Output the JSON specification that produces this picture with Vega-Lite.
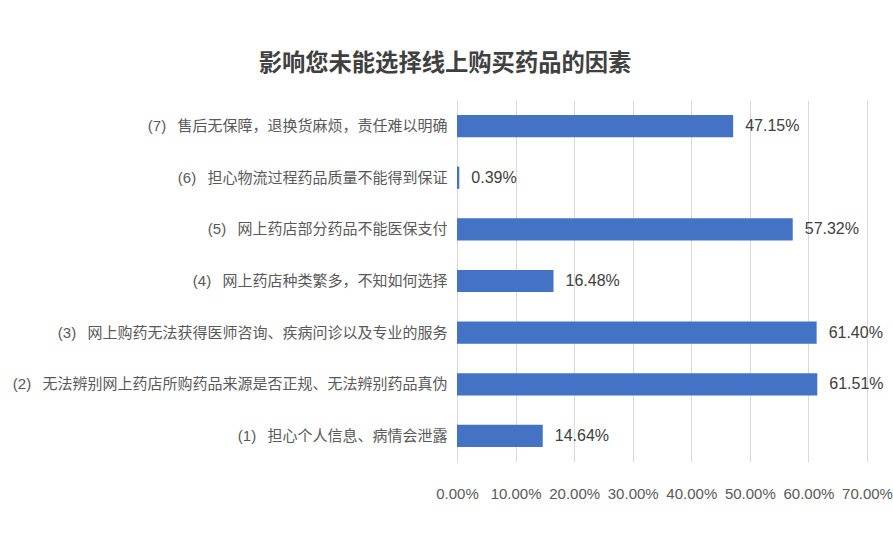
{
  "$schema": "https://vega.github.io/schema/vega-lite/v6.json",
  "width": 410,
  "height": 362,
  "autosize": {"type": "none"},
  "padding": {"left": 457, "top": 100, "right": 26, "bottom": 80},
  "background": "white",
  "config": {"view": {"stroke": null}, "font": "Liberation Sans, Noto Sans CJK SC"},
  "title": {
    "text": "影响您未能选择线上购买药品的因素",
    "font": "Noto Sans CJK SC",
    "fontSize": 23.3,
    "fontWeight": "bold",
    "color": "#404040",
    "anchor": "middle",
    "frame": "group",
    "dx": -217,
    "offset": 24
  },
  "data": {
    "values": [
      {"k": 7, "label": "(7)\u00a0\u00a0\u2009售后无保障，退换货麻烦，责任难以明确", "v": 0.4715},
      {"k": 6, "label": "(6)\u00a0\u00a0\u2009担心物流过程药品质量不能得到保证", "v": 0.0039},
      {"k": 5, "label": "(5)\u00a0\u00a0\u2009网上药店部分药品不能医保支付", "v": 0.5732},
      {"k": 4, "label": "(4)\u00a0\u00a0\u2009网上药店种类繁多，不知如何选择", "v": 0.1648},
      {"k": 3, "label": "(3)\u00a0\u00a0\u2009网上购药无法获得医师咨询、疾病问诊以及专业的服务", "v": 0.614},
      {"k": 2, "label": "(2)\u00a0\u00a0\u2009无法辨别网上药店所购药品来源是否正规、无法辨别药品真伪", "v": 0.6151},
      {"k": 1, "label": "(1)\u00a0\u00a0\u2009担心个人信息、病情会泄露", "v": 0.1464}
    ]
  },
  "encoding": {
    "y": {
      "field": "label",
      "type": "nominal",
      "sort": {"field": "k", "order": "descending"},
      "scale": {"paddingInner": 0.57, "paddingOuter": 0.29},
      "axis": {
        "title": null,
        "ticks": false,
        "domain": true,
        "domainColor": "#d9d9d9",
        "labelFont": "Liberation Sans, Noto Sans CJK SC",
        "labelFontSize": 15,
        "labelColor": "#595959",
        "labelPadding": 10,
        "labelLimit": 500
      }
    },
    "x": {
      "field": "v",
      "type": "quantitative",
      "scale": {"domain": [0, 0.7], "nice": false},
      "axis": {
        "title": null,
        "format": ".2%",
        "values": [0, 0.1, 0.2, 0.3, 0.4, 0.5, 0.6, 0.7],
        "domain": false,
        "ticks": false,
        "grid": true,
        "gridColor": "#d9d9d9",
        "labelFontSize": 15,
        "labelColor": "#595959",
        "labelPadding": 24,
        "labelOverlap": false,
        "labelBound": false,
        "labelFlush": false
      }
    }
  },
  "layer": [
    {"mark": {"type": "bar", "color": "#4472C4"}},
    {
      "mark": {"type": "text", "align": "left", "dx": 12, "fontSize": 16, "color": "#404040"},
      "encoding": {"text": {"field": "v", "type": "quantitative", "format": ".2%"}}
    }
  ]
}
